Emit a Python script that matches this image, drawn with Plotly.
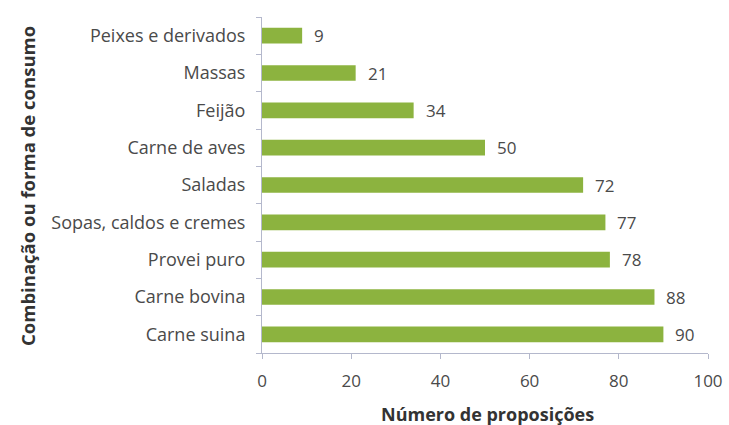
import plotly.graph_objects as go

categories = ["Carne suina", "Carne bovina", "Provei puro", "Sopas, caldos e cremes",
              "Saladas", "Carne de aves", "Feijão", "Massas", "Peixes e derivados"]
values = [90, 88, 78, 77, 72, 50, 34, 21, 9]
x_ticks = [0, 20, 40, 60, 80, 100]

font_fam = "Open Sans, Liberation Sans, sans-serif"
txt = "#4a4a4a"
axis_col = "#b4b8cc"

W, H = 729, 425
ML, MR, MT, MB = 262, 21, 17, 72
plot_w = W - ML - MR
plot_h = H - MT - MB

fig = go.Figure(go.Bar(
    y=categories, x=values, orientation="h",
    marker=dict(color="#8cb33f", line=dict(width=0)),
    width=0.42,
    cliponaxis=False,
))

annotations = [
    dict(x=v, y=c, xref="x", yref="y", text=str(v), showarrow=False,
         xanchor="left", yanchor="middle", xshift=10,
         font=dict(family=font_fam, size=17, color=txt))
    for c, v in zip(categories, values)
]
annotations += [
    dict(text="<b>Número de proposições</b>", xref="paper", yref="paper",
         x=(487 - ML) / plot_w, y=-(414 - (H - MB)) / plot_h,
         xanchor="center", yanchor="middle", showarrow=False,
         font=dict(size=18, color="#333333")),
    dict(text="<b>Combinação ou forma de consumo</b>", xref="paper", yref="paper",
         x=(27 - ML) / plot_w, y=((H - MB) - 186) / plot_h,
         xanchor="center", yanchor="middle", showarrow=False, textangle=-90,
         font=dict(size=18.5, color="#333333")),
]

fig.update_layout(
    width=W, height=H,
    margin=dict(l=ML, r=MR, t=MT, b=MB, autoexpand=False),
    paper_bgcolor="white", plot_bgcolor="white",
    showlegend=False,
    font=dict(family=font_fam, color=txt, size=17),
    xaxis=dict(range=[0, 100], tickvals=x_ticks, showgrid=False, zeroline=False,
               showline=True, linecolor=axis_col, linewidth=1,
               ticks="outside", ticklen=5, tickcolor=axis_col,
               ticklabelstandoff=8, automargin=False,
               tickfont=dict(size=17, color=txt)),
    yaxis=dict(showgrid=False, zeroline=False, showline=True, linecolor=axis_col,
               linewidth=1, ticks="outside", ticklen=5, tickcolor=axis_col,
               tickson="boundaries", tickfont=dict(size=18, color=txt),
               ticklabelstandoff=12, automargin=False,
               range=[-0.5, 8.5]),
    annotations=annotations,
)

fig.write_html("out.html")
